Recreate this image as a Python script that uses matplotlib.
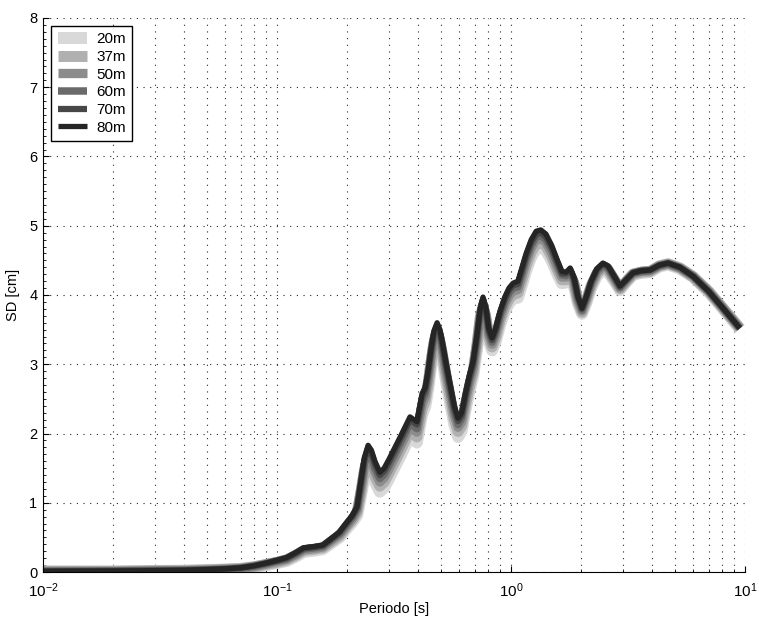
import numpy as np
import matplotlib
matplotlib.use('Agg')
import matplotlib.pyplot as plt
from matplotlib.ticker import MultipleLocator, LogLocator, NullFormatter

plt.rcParams['font.family'] = ['Liberation Sans', 'DejaVu Sans']
plt.rcParams['mathtext.fontset'] = 'custom'
plt.rcParams['mathtext.rm'] = 'Liberation Sans'

# ========== 数据 ==========
periodo = [0.01, 0.02, 0.03, 0.04, 0.05, 0.06, 0.07, 0.08, 0.09, 0.10,
           0.11, 0.12, 0.13, 0.145, 0.157, 0.173, 0.185, 0.199, 0.21, 0.22,
           0.228, 0.236, 0.245, 0.253, 0.262, 0.275, 0.287, 0.30, 0.336, 0.37,
           0.396, 0.417, 0.43, 0.443, 0.455, 0.468, 0.483, 0.497, 0.51, 0.53,
           0.55, 0.572, 0.594, 0.615, 0.64, 0.665, 0.689, 0.715, 0.738, 0.759,
           0.78, 0.803, 0.83, 0.86, 0.90, 0.94, 0.98, 1.02, 1.07, 1.11,
           1.16, 1.22, 1.28, 1.34, 1.41, 1.49, 1.57, 1.65, 1.72, 1.79,
           1.86, 1.93, 2.01, 2.1, 2.2, 2.33, 2.47, 2.6, 2.75, 2.92,
           3.1, 3.32, 3.6, 3.93, 4.3, 4.69, 5.27, 6.0, 7.0, 8.0, 9.5]

sd_20m = [0.01, 0.01, 0.015, 0.02, 0.03, 0.035, 0.045, 0.07, 0.10, 0.13,
          0.16, 0.22, 0.29, 0.31, 0.33, 0.43, 0.50, 0.63, 0.72, 0.82,
          1.08, 1.37, 1.53, 1.46, 1.30, 1.16, 1.22, 1.34, 1.67, 1.96,
          1.87, 2.28, 2.39, 2.65, 2.96, 3.23, 3.35, 3.25, 3.05, 2.72,
          2.43, 2.13, 1.95, 2.04, 2.35, 2.62, 2.83, 3.21, 3.60, 3.77,
          3.63, 3.34, 3.20, 3.33, 3.58, 3.76, 3.88, 3.95, 3.96, 4.13,
          4.35, 4.55, 4.67, 4.69, 4.64, 4.50, 4.32, 4.17, 4.18, 4.24,
          4.12, 3.88, 3.73, 3.89, 4.10, 4.28, 4.36, 4.33, 4.21, 4.07,
          4.18, 4.29, 4.32, 4.33, 4.41, 4.44, 4.38, 4.26, 4.04, 3.81, 3.51]

sd_37m = [0.01, 0.01, 0.02, 0.02, 0.03, 0.04, 0.05, 0.075, 0.11, 0.14,
          0.175, 0.24, 0.31, 0.33, 0.35, 0.45, 0.52, 0.66, 0.75, 0.86,
          1.14, 1.45, 1.61, 1.54, 1.38, 1.24, 1.30, 1.42, 1.75, 2.04,
          1.95, 2.36, 2.47, 2.73, 3.03, 3.30, 3.42, 3.32, 3.12, 2.79,
          2.51, 2.21, 2.03, 2.11, 2.42, 2.68, 2.89, 3.27, 3.66, 3.83,
          3.68, 3.39, 3.25, 3.38, 3.64, 3.82, 3.94, 4.01, 4.03, 4.20,
          4.42, 4.62, 4.74, 4.76, 4.71, 4.56, 4.38, 4.22, 4.22, 4.28,
          4.16, 3.91, 3.75, 3.92, 4.13, 4.31, 4.39, 4.36, 4.23, 4.09,
          4.19, 4.30, 4.33, 4.34, 4.42, 4.45, 4.39, 4.26, 4.05, 3.82, 3.52]

sd_50m = [0.01, 0.01, 0.02, 0.02, 0.03, 0.04, 0.05, 0.08, 0.115, 0.15,
          0.185, 0.25, 0.32, 0.34, 0.36, 0.47, 0.54, 0.67, 0.77, 0.89,
          1.19, 1.51, 1.68, 1.61, 1.45, 1.30, 1.36, 1.48, 1.81, 2.10,
          2.02, 2.43, 2.53, 2.79, 3.09, 3.36, 3.48, 3.38, 3.18, 2.85,
          2.57, 2.27, 2.09, 2.17, 2.48, 2.74, 2.94, 3.32, 3.70, 3.87,
          3.73, 3.43, 3.29, 3.43, 3.68, 3.87, 3.99, 4.06, 4.08, 4.26,
          4.48, 4.68, 4.80, 4.82, 4.76, 4.61, 4.42, 4.26, 4.26, 4.32,
          4.19, 3.93, 3.77, 3.94, 4.15, 4.33, 4.41, 4.38, 4.25, 4.10,
          4.20, 4.31, 4.34, 4.35, 4.42, 4.45, 4.39, 4.27, 4.05, 3.82, 3.52]

sd_60m = [0.01, 0.015, 0.02, 0.025, 0.03, 0.04, 0.055, 0.08, 0.12, 0.16,
          0.19, 0.26, 0.33, 0.35, 0.37, 0.48, 0.55, 0.69, 0.79, 0.91,
          1.23, 1.56, 1.73, 1.66, 1.50, 1.35, 1.41, 1.53, 1.86, 2.15,
          2.07, 2.48, 2.58, 2.83, 3.14, 3.40, 3.52, 3.42, 3.22, 2.90,
          2.61, 2.31, 2.13, 2.22, 2.52, 2.78, 2.98, 3.35, 3.74, 3.91,
          3.76, 3.46, 3.32, 3.46, 3.72, 3.90, 4.03, 4.10, 4.12, 4.30,
          4.52, 4.72, 4.84, 4.86, 4.80, 4.65, 4.46, 4.29, 4.28, 4.34,
          4.21, 3.95, 3.78, 3.95, 4.17, 4.35, 4.43, 4.39, 4.26, 4.11,
          4.21, 4.31, 4.34, 4.35, 4.42, 4.45, 4.39, 4.27, 4.05, 3.82, 3.52]

sd_70m = [0.01, 0.015, 0.02, 0.025, 0.035, 0.045, 0.06, 0.09, 0.125, 0.16,
          0.20, 0.27, 0.34, 0.36, 0.38, 0.49, 0.57, 0.71, 0.81, 0.93,
          1.27, 1.61, 1.79, 1.72, 1.56, 1.40, 1.46, 1.58, 1.91, 2.20,
          2.13, 2.54, 2.63, 2.88, 3.18, 3.44, 3.56, 3.46, 3.26, 2.94,
          2.66, 2.36, 2.18, 2.26, 2.56, 2.82, 3.02, 3.39, 3.77, 3.94,
          3.79, 3.49, 3.35, 3.49, 3.75, 3.94, 4.07, 4.14, 4.16, 4.34,
          4.56, 4.76, 4.88, 4.90, 4.84, 4.69, 4.49, 4.31, 4.31, 4.37,
          4.23, 3.97, 3.80, 3.97, 4.19, 4.37, 4.45, 4.41, 4.27, 4.12,
          4.21, 4.32, 4.35, 4.36, 4.43, 4.46, 4.40, 4.27, 4.05, 3.82, 3.52]

sd_80m = [0.01, 0.015, 0.02, 0.025, 0.035, 0.045, 0.06, 0.09, 0.13, 0.17,
          0.21, 0.28, 0.35, 0.37, 0.39, 0.50, 0.58, 0.72, 0.82, 0.95,
          1.30, 1.65, 1.83, 1.76, 1.60, 1.44, 1.50, 1.62, 1.95, 2.24,
          2.17, 2.58, 2.67, 2.92, 3.22, 3.48, 3.60, 3.50, 3.30, 2.98,
          2.70, 2.40, 2.22, 2.30, 2.60, 2.85, 3.05, 3.42, 3.80, 3.97,
          3.82, 3.52, 3.38, 3.52, 3.78, 3.97, 4.10, 4.17, 4.20, 4.38,
          4.60, 4.80, 4.92, 4.94, 4.88, 4.72, 4.52, 4.34, 4.33, 4.39,
          4.25, 3.98, 3.81, 3.98, 4.20, 4.38, 4.46, 4.42, 4.28, 4.13,
          4.22, 4.32, 4.35, 4.36, 4.43, 4.46, 4.40, 4.27, 4.05, 3.82, 3.52]

etiquetas = ['20m', '37m', '50m', '60m', '70m', '80m']
series = [sd_20m, sd_37m, sd_50m, sd_60m, sd_70m, sd_80m]
colores = ['#d8d8d8', '#b0b0b0', '#8c8c8c', '#6a6a6a', '#474747', '#252525']
anchos = [8.6, 7.9, 6.7, 5.4, 4.5, 3.8]

# ========== 图像 ==========
fig = plt.figure(figsize=(7.59, 6.2), dpi=100)
ax = fig.add_axes([0.0567, 0.0774, 0.9249, 0.8936])

for sd, lab, c, w in zip(series, etiquetas, colores, anchos):
    ax.plot(periodo, sd, color=c, lw=w, label=lab,
            solid_joinstyle='round', solid_capstyle='butt')

ax.set_xscale('log')
ax.set_xlim(1e-2, 1e1)
ax.set_ylim(0, 8)
ax.yaxis.set_major_locator(MultipleLocator(1))
ax.yaxis.set_minor_locator(MultipleLocator(0.1))
ax.xaxis.set_minor_locator(LogLocator(base=10, subs=np.arange(2, 10), numticks=20))
ax.xaxis.set_minor_formatter(NullFormatter())

ax.grid(True, which='major', axis='both', color='0.15',
        linestyle=(0, (1, 5)), linewidth=0.8)
ax.grid(True, which='minor', axis='x', color='0.15',
        linestyle=(0, (1, 5)), linewidth=0.8)
ax.set_axisbelow(True)

for s in ['top', 'right']:
    ax.spines[s].set_visible(False)
for s in ['left', 'bottom']:
    ax.spines[s].set_linewidth(0.8)

ax.tick_params(which='major', direction='in', length=4.5, width=0.8)
ax.tick_params(which='minor', direction='in', length=2, width=0.6)
ax.tick_params(axis='y', labelsize=10.5, pad=4)
ax.tick_params(axis='x', labelsize=11, pad=7)

ax.set_xlabel('Periodo [s]', fontsize=10.5, labelpad=1)
ax.set_ylabel('SD [cm]', fontsize=10.5, labelpad=7)

leg = ax.legend(loc='upper left', bbox_to_anchor=(0.012, 0.985),
                fontsize=11, frameon=True, fancybox=False,
                handlelength=1.95, handletextpad=0.6, labelspacing=0.24,
                borderpad=0.4, borderaxespad=0)
leg.get_frame().set_edgecolor('black')
leg.get_frame().set_linewidth(1.0)
leg.get_frame().set_alpha(1)

fig.savefig('out.png', dpi=100)
